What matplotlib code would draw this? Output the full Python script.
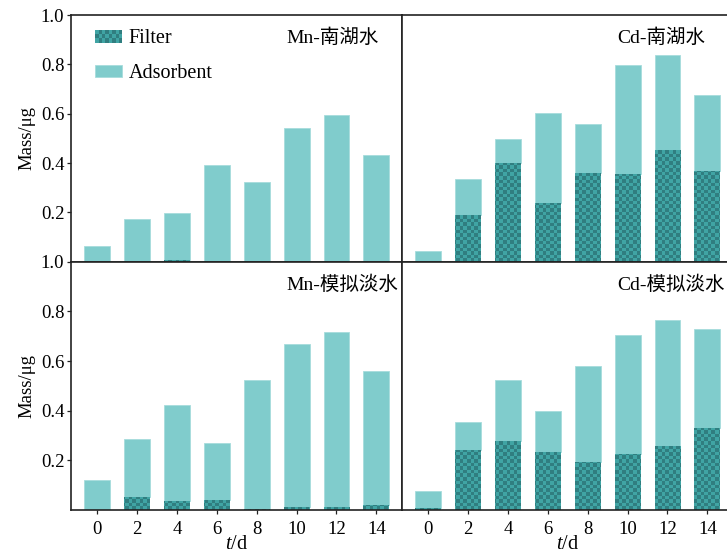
import numpy as np
import matplotlib
matplotlib.use("Agg")
import matplotlib.pyplot as plt
from matplotlib.colors import ListedColormap
from matplotlib.patches import Rectangle, Patch
from matplotlib.legend_handler import HandlerBase

plt.rcParams['font.family'] = ['Liberation Serif', 'Noto Sans CJK SC']
plt.rcParams['mathtext.fontset'] = 'custom'
plt.rcParams['mathtext.it'] = 'Liberation Serif:italic'
plt.rcParams['mathtext.rm'] = 'Liberation Serif'

# === Data ===
days = [0, 2, 4, 6, 8, 10, 12, 14]

mn_lake_filter = [0.0, 0.0, 0.008, 0.0, 0.0, 0.0, 0.0, 0.0]
mn_lake_adsorbent = [0.065, 0.174, 0.191, 0.391, 0.323, 0.541, 0.596, 0.431]

cd_lake_filter = [0.0, 0.189, 0.400, 0.239, 0.360, 0.354, 0.454, 0.369]
cd_lake_adsorbent = [0.045, 0.146, 0.096, 0.365, 0.198, 0.443, 0.383, 0.308]

mn_sim_filter = [0.0, 0.051, 0.036, 0.040, 0.005, 0.011, 0.011, 0.020]
mn_sim_adsorbent = [0.121, 0.235, 0.387, 0.230, 0.519, 0.659, 0.705, 0.539]

cd_sim_filter = [0.007, 0.242, 0.277, 0.235, 0.192, 0.227, 0.257, 0.331]
cd_sim_adsorbent = [0.068, 0.111, 0.247, 0.162, 0.388, 0.478, 0.509, 0.399]

panel_titles = ['Mn-南湖水', 'Cd-南湖水', 'Mn-模拟淡水', 'Cd-模拟淡水']

# === Style ===
FILTER_COLOR = '#40a4a4'
FILTER_DARK = '#307e80'
ADS_COLOR = '#80cccc'
ADS_EDGE = '#a6dcdc'
SPINE = '#222222'
XLIM = (-0.65, 7.65)


class CheckerHandler(HandlerBase):
    """Legend key drawn as a small checkerboard."""
    def create_artists(self, legend, orig_handle, xdescent, ydescent,
                       width, height, fontsize, trans):
        arts = [Rectangle((-xdescent, -ydescent), width, height,
                          facecolor=FILTER_COLOR, edgecolor='none', transform=trans)]
        nx, ny = 8, 3
        cw, ch = width / nx, height / ny
        for i in range(nx):
            for j in range(ny):
                if (i + j) % 2:
                    arts.append(Rectangle((-xdescent + i * cw, -ydescent + j * ch), cw, ch,
                                          facecolor=FILTER_DARK, edgecolor='none',
                                          transform=trans))
        return arts


def checker_fill(ax, bars, cell_px=3.6):
    # overlay a checkerboard texture clipped to each bar
    bbox = ax.get_window_extent()
    nx = int(round(bbox.width / cell_px))
    ny = int(round(bbox.height / cell_px))
    grid = (np.add.outer(np.arange(ny), np.arange(nx)) % 2).astype(float)
    cmap = ListedColormap([FILTER_COLOR, FILTER_DARK])
    for b in bars:
        if b.get_height() <= 0:
            continue
        im = ax.imshow(grid, cmap=cmap, extent=(XLIM[0], XLIM[1], 0, 1),
                       origin='lower', interpolation='nearest', aspect='auto',
                       zorder=2.5)
        im.set_clip_path(b)


fig = plt.figure(figsize=(7.27, 5.55), dpi=100)
W, H = 727, 555
left_x, right_x, ax_w = 71.3, 402.3, 331.0
top_y0, top_y1 = 15.0, 261.7
bot_y0, bot_y1 = 261.7, 510.0

positions = [
    (left_x, top_y0, top_y1), (right_x, top_y0, top_y1),
    (left_x, bot_y0, bot_y1), (right_x, bot_y0, bot_y1),
]
series = [
    (mn_lake_filter, mn_lake_adsorbent),
    (cd_lake_filter, cd_lake_adsorbent),
    (mn_sim_filter, mn_sim_adsorbent),
    (cd_sim_filter, cd_sim_adsorbent),
]

axes = []
for k, ((x0, yt, yb), (filt, ads)) in enumerate(zip(positions, series)):
    ax = fig.add_axes([x0 / W, 1 - yb / H, ax_w / W, (yb - yt) / H])
    axes.append(ax)
    xs = np.arange(len(days))
    fb = ax.bar(xs, filt, width=0.65, color=FILTER_COLOR, edgecolor='none', zorder=2)
    ax.bar(xs, ads, width=0.65, bottom=filt, color=ADS_COLOR,
           edgecolor=ADS_EDGE, linewidth=0.6, zorder=2)
    ax.set_xlim(*XLIM)
    ax.set_ylim(0, 1.0)
    for s in ax.spines.values():
        s.set_color(SPINE)
        s.set_linewidth(1.2)
    ax.set_yticks([0.2, 0.4, 0.6, 0.8, 1.0])
    ax.tick_params(axis='both', direction='out', length=3, width=0.9,
                   color=SPINE, labelsize=13.5, pad=2)
    is_left = k % 2 == 0
    is_bottom = k >= 2
    if is_left:
        ax.set_ylabel('Mass/μg', fontsize=13.5, labelpad=4)
    else:
        ax.tick_params(axis='y', left=False, labelleft=False)
    if is_bottom:
        ax.set_xticks(xs)
        ax.set_xticklabels([str(d) for d in days])
        ax.tick_params(axis='x', pad=5)
        ax.set_xlabel('$t$/d', fontsize=14.5, labelpad=-2.5)
    else:
        ax.tick_params(axis='x', bottom=False, labelbottom=False)
    ax.text(0.65, 0.906, panel_titles[k], transform=ax.transAxes,
            ha='left', va='center', fontsize=14)
    checker_fill(ax, fb)

handles = [Patch(label='Filter'), Patch(facecolor=ADS_COLOR, edgecolor=ADS_EDGE,
                                          linewidth=0.6, label='Adsorbent')]
axes[0].legend(handles=handles, loc='upper left', bbox_to_anchor=(0.072, 0.942),
               frameon=False, fontsize=14.5, handlelength=1.35, handleheight=0.6,
               handletextpad=0.3, labelspacing=0.78, borderpad=0, borderaxespad=0,
               handler_map={handles[0]: CheckerHandler()})

fig.savefig('out.png', dpi=100)
